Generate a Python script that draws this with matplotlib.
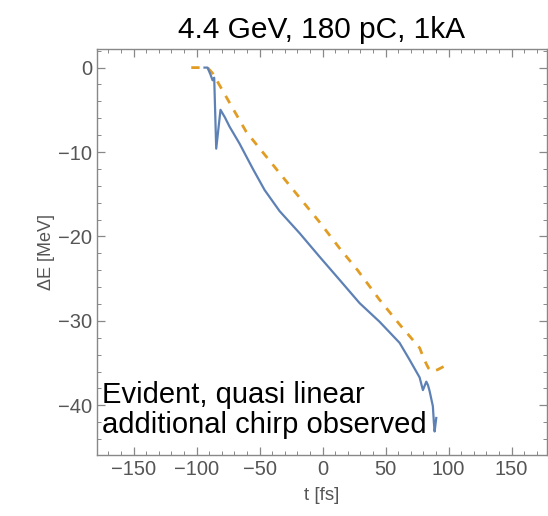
import numpy as np
import matplotlib.pyplot as plt
from matplotlib.ticker import MultipleLocator

plt.rcParams['font.family'] = ['Liberation Sans', 'DejaVu Sans']

# simulated energy deviation along the bunch
t_sim = [-93.7, -91.3, -89.0, -87.3, -86.0, -84.4, -81.0, -77.5, -73.8, -65.9, -55.3,
         -46.0, -34.1, -18.3, -2.4, 12.1, 29.4, 45.2, 61.1, 69.0, 77.0, 79.6, 82.3,
         83.6, 84.9, 87.5, 88.3, 88.9, 90.2]
dE_sim = [0, 0, -0.8, -1.5, -1.2, -9.6, -5.0, -5.9, -7.0, -9.0, -12.0,
          -14.5, -17.0, -19.6, -22.4, -24.9, -27.9, -30.1, -32.6, -34.6, -36.7, -38.2, -37.2,
          -37.6, -38.3, -40.1, -42.0, -43.1, -41.5]

# linear chirp reference
t_lin = [-104.2, -91.3, -87.1, -60.6, -34.1, -2.4, 13.5, 27.8, 45.2, 61.0, 77.0,
         81.0, 84.0, 86.3, 91.0, 97.5]
dE_lin = [0, 0, -0.7, -7.6, -12.5, -18.3, -21.4, -24.0, -27.5, -30.4, -33.2,
          -34.7, -35.6, -36.0, -35.8, -35.3]

title = "4.4 GeV, 180 pC, 1kA"
note = "Evident, quasi linear\nadditional chirp observed"

fig = plt.figure(figsize=(5.48, 5.16), dpi=100)
ax = fig.add_axes([0.177, 0.118, 0.821, 0.787])

ax.plot(t_lin, dE_lin, color='#E19C24', lw=2.0, dashes=(3, 3))
ax.plot(t_sim, dE_sim, color='#5E81B5', lw=1.6)

ax.set_xlim(-179, 178)
ax.set_ylim(-45.9, 2.2)

ax.xaxis.set_major_locator(MultipleLocator(50))
ax.xaxis.set_minor_locator(MultipleLocator(10))
ax.yaxis.set_major_locator(MultipleLocator(10))
ax.yaxis.set_minor_locator(MultipleLocator(2))

gray = '#888888'
for s in ax.spines.values():
    s.set_color(gray)
    s.set_linewidth(1.0)
ax.tick_params(which='both', direction='in', top=True, right=True, color=gray,
               labelcolor='#555555', labelsize=14.5)
ax.tick_params(which='major', length=6, width=0.9)
ax.tick_params(which='minor', length=3, width=0.7)

fmt = lambda v: f"{int(v)}".replace('-', '\u2212')
ax.set_xticks([-150, -100, -50, 0, 50, 100, 150])
ax.set_xticklabels([fmt(v) for v in [-150, -100, -50, 0, 50, 100, 150]])
ax.set_yticks([0, -10, -20, -30, -40])
ax.set_yticklabels([fmt(v) for v in [0, -10, -20, -30, -40]])

ax.set_xlabel("t [fs]", color='#555555', fontsize=13.5, labelpad=6)
ax.set_ylabel("\u0394E [MeV]", color='#555555', fontsize=13, labelpad=2)

ax.set_title(title, fontsize=21.5, pad=8)

ax.text(0.012, 0.04, note, transform=ax.transAxes, fontsize=21,
        linespacing=1.1, va='bottom', ha='left', color='black')

fig.savefig("out.png", dpi=100)
